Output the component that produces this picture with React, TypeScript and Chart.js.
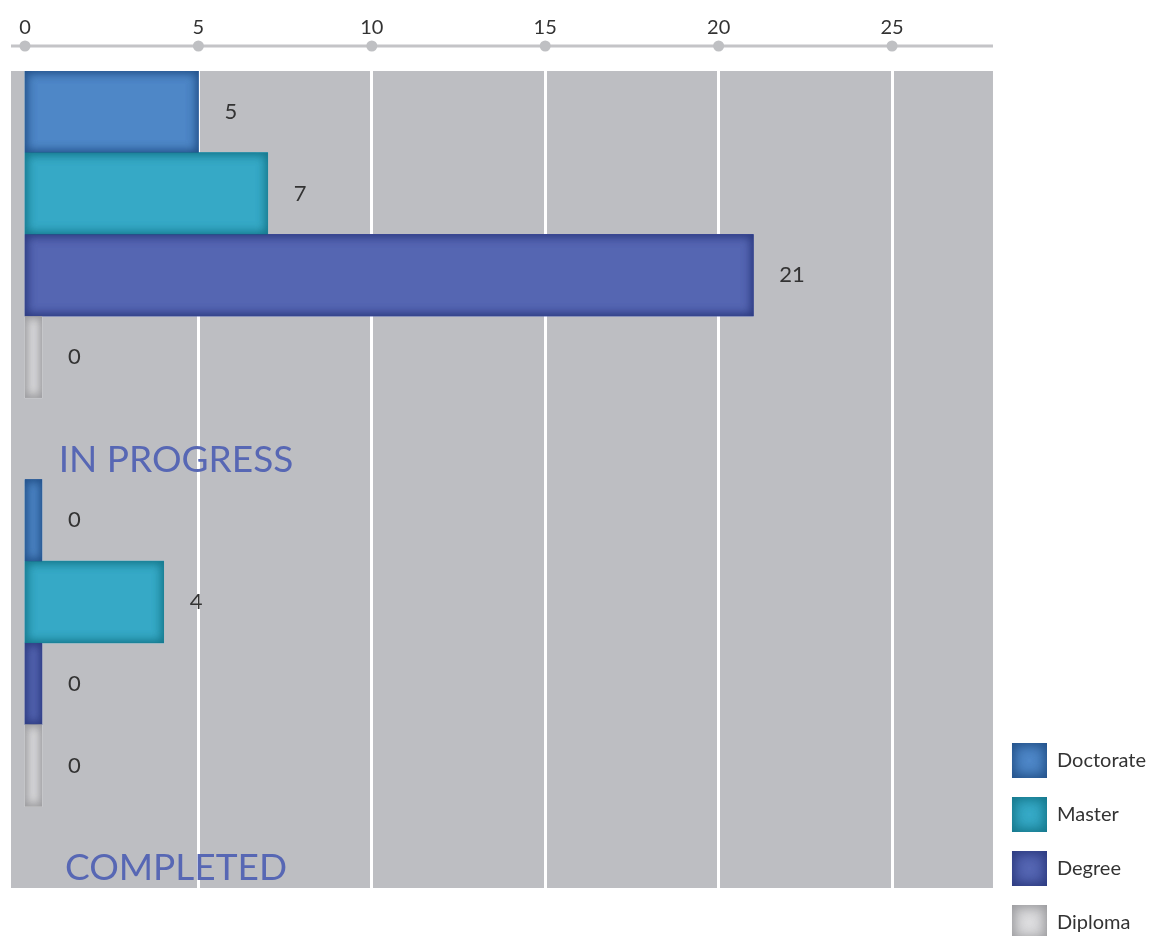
import { useEffect, useRef } from "react";
import { Chart, registerables } from "chart.js";

Chart.register(...registerables);

const FONT = "Lato, 'DejaVu Sans', sans-serif";

// ---- data ----
const categories = ["IN PROGRESS", "COMPLETED"];
const seriesNames = ["Doctorate", "Master", "Degree", "Diploma"];
const doctorate = [5, 0];
const master = [7, 4];
const degree = [21, 0];
const diploma = [0, 0];
const xTicks = [0, 5, 10, 15, 20, 25];

// ---- styles ----
const fillColors = ["#4e87c7", "#36a9c6", "#5566b2", "#dcdcde"];
const edgeColors = ["#24528a", "#16788c", "#2d3b80", "#9c9c9f"];

function innerShadow(ctx: CanvasRenderingContext2D, x: number, y: number, w: number, h: number, color: string, blur: number) {
  ctx.save();
  ctx.beginPath();
  ctx.rect(x, y, w, h);
  ctx.clip();
  ctx.shadowColor = color;
  ctx.shadowBlur = blur;
  ctx.shadowOffsetX = 0;
  ctx.shadowOffsetY = 0;
  ctx.strokeStyle = color;
  ctx.lineWidth = 20;
  ctx.strokeRect(x - 10, y - 10, w + 20, h + 20);
  ctx.strokeRect(x - 10, y - 10, w + 20, h + 20);
  ctx.restore();
}

const backgroundPlugin = {
  id: "plotBackground",
  beforeDraw(chart: any) {
    const { ctx, chartArea: a } = chart;
    ctx.save();
    ctx.fillStyle = "#bdbec2";
    ctx.fillRect(a.left, a.top, a.right - a.left, a.bottom - a.top);
    ctx.restore();
  },
};

const barDecorPlugin = {
  id: "barDecor",
  afterDatasetsDraw(chart: any) {
    const { ctx, chartArea: a } = chart;
    for (let d = 0; d < seriesNames.length; d++) {
      const meta = chart.getDatasetMeta(d);
      meta.data.forEach((el: any, i: number) => {
        const p = el.getProps(["x", "y", "base", "height"], true);
        const left = Math.min(p.base, p.x);
        const w = Math.abs(p.x - p.base);
        const top = p.y - p.height / 2;
        innerShadow(ctx, left, top, w, p.height, edgeColors[d], 11);
        ctx.save();
        ctx.fillStyle = "#333333";
        ctx.font = `22px ${FONT}`;
        ctx.textAlign = "left";
        ctx.textBaseline = "middle";
        ctx.fillText(String(chart.data.datasets[d].data[i]), Math.max(p.x, p.base) + 26, p.y);
        ctx.restore();
      });
    }
    // group labels in the empty slot beneath each group
    const ys = chart.scales.y;
    const catH = (a.bottom - a.top) / categories.length;
    ctx.save();
    ctx.fillStyle = "#5767b4";
    ctx.font = `37px ${FONT}`;
    ctx.textAlign = "center";
    ctx.textBaseline = "alphabetic";
    categories.forEach((c, i) => {
      const center = ys.getPixelForValue(i);
      ctx.fillText(c, a.left + 165, center + catH / 2 - 8);
    });
    ctx.restore();
  },
};

const axisPlugin = {
  id: "topAxisLine",
  afterDraw(chart: any) {
    const { ctx, chartArea: a } = chart;
    const xs = chart.scales.x;
    const yLine = a.top - 25;
    ctx.save();
    ctx.strokeStyle = "#c4c4c7";
    ctx.lineWidth = 3;
    ctx.beginPath();
    ctx.moveTo(a.left, yLine);
    ctx.lineTo(a.right, yLine);
    ctx.stroke();
    ctx.fillStyle = "#bfc0c3";
    xs.ticks.forEach((t: any) => {
      ctx.beginPath();
      ctx.arc(xs.getPixelForValue(t.value), yLine, 5.5, 0, Math.PI * 2);
      ctx.fill();
    });
    // bevel legend boxes
    const lg = chart.legend;
    if (lg && lg.legendHitBoxes) {
      lg.legendHitBoxes.forEach((hb: any, i: number) => {
        innerShadow(ctx, hb.left, hb.top, 35, 35, edgeColors[i], 14);
      });
    }
    ctx.restore();
  },
};

export default function App() {
  const ref = useRef<HTMLCanvasElement | null>(null);

  useEffect(() => {
    if (!ref.current) return;
    const series = [doctorate, master, degree, diploma];
    const chart = new Chart(ref.current, {
      type: "bar",
      data: {
        labels: categories,
        datasets: [
          ...series.map((s, i) => ({
            label: seriesNames[i],
            data: s,
            backgroundColor: fillColors[i],
            borderWidth: 0,
          })),
          { label: "", data: categories.map(() => null), backgroundColor: "rgba(0,0,0,0)", borderWidth: 0 },
        ],
      },
      options: {
        animation: false,
        responsive: true,
        maintainAspectRatio: false,
        indexAxis: "y",
        layout: { padding: { top: 10, left: 11, right: 12, bottom: 0 } },
        datasets: {
          bar: { categoryPercentage: 1, barPercentage: 1, minBarLength: 17, base: -1e-9 },
        },
        scales: {
          x: {
            type: "linear",
            position: "top",
            min: -0.403,
            max: 27.91,
            afterBuildTicks: (s: any) => {
              s.ticks = xTicks.map((v) => ({ value: v }));
            },
            grid: {
              color: (c: any) => (c.tick && c.tick.value === 0 ? "rgba(0,0,0,0)" : "#ffffff"),
              lineWidth: 3,
              drawTicks: true,
              tickLength: 25,
              tickColor: "rgba(0,0,0,0)",
            },
            border: { display: false },
            ticks: { color: "#333333", font: { size: 20, family: FONT }, padding: 6 },
          },
          y: { type: "category", display: false, grid: { display: false } },
        },
        plugins: {
          legend: {
            position: "right",
            align: "end",
            labels: {
              boxWidth: 35,
              boxHeight: 35,
              padding: 19,
              color: "#333333",
              font: { size: 20, family: FONT },
              filter: (item: any) => item.datasetIndex < seriesNames.length,
            },
          },
          title: {
            display: true,
            text: "",
            position: "bottom",
            fullSize: false,
            padding: 0,
            font: { size: 71, lineHeight: 1 },
          },
          tooltip: { enabled: false },
        },
      } as any,
      plugins: [backgroundPlugin, barDecorPlugin, axisPlugin],
    });
    return () => chart.destroy();
  }, []);

  return (
    <div style={{ position: "fixed", left: 0, top: 0, width: 1168, height: 959, background: "#ffffff" }}>
      <canvas ref={ref} />
    </div>
  );
}
